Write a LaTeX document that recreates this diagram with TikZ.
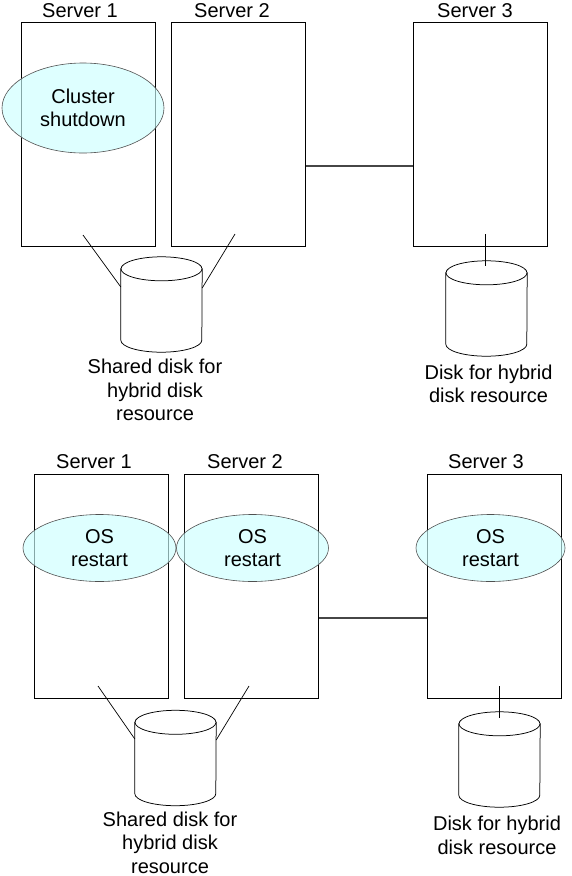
\documentclass[tikz,border=0pt]{standalone}
\usepackage{fontspec}
\setmainfont{Liberation Sans}
\usetikzlibrary{shapes.geometric}
\definecolor{ovalfill}{RGB}{204,255,255}
\definecolor{ovalline}{RGB}{80,80,80}
\definecolor{linkgray}{RGB}{70,70,70}
\tikzset{
  srv/.style={draw=black, line width=1pt, rectangle, inner sep=0pt, minimum width=134pt, minimum height=224pt},
  oval/.style={ellipse, draw=ovalline, line width=0.6pt, fill=ovalfill, fill opacity=0.65, text opacity=1, inner sep=0pt, align=center, font=\fontsize{20}{23}\selectfont},
  lbl/.style={inner sep=0pt, anchor=base, font=\fontsize{20}{24}\selectfont},
  captext/.style={inner sep=0pt, anchor=north, align=center, font=\fontsize{20}{23.5}\selectfont},
  cylbody/.style={rectangle, inner sep=0pt, minimum width=81pt, minimum height=71pt},
  cylline/.style={draw=black, line width=0.75pt, fill=white},
  wire/.style={draw=black, line width=0.7pt},
  link/.style={draw=linkgray, line width=1.3pt}
}
\begin{document}
\begin{tikzpicture}[x=1pt, y=-1pt]
\useasboundingbox (0,0) rectangle (571,876);
% ---------- top half ----------
\node[lbl] (l1) at (80,17) {Server 1};
\node[lbl] (l2) at (232,17) {Server 2};
\node[lbl] (l3) at (475,17) {Server 3};
\node[srv] (s1) at (88,134) {};
\node[srv] (s2) at (238.5,134) {};
\node[srv] (s3) at (480.5,134) {};
\draw[link] (s2.east |- 0,166) -- (s3.west |- 0,166);
% disks
\node[cylbody] (d1) at (161.5,304.5) {};
\path[cylline] (d1.north west) -- (d1.south west) arc[start angle=180, end angle=360, x radius=40.5pt, y radius=12pt] -- (d1.north east) -- cycle;
\draw[cylline] (d1.north) ellipse[x radius=40.5pt, y radius=12pt];
\node[cylbody] (d3) at (486.5,308.5) {};
\path[cylline] (d3.north west) -- (d3.south west) arc[start angle=180, end angle=360, x radius=40.5pt, y radius=12pt] -- (d3.north east) -- cycle;
\draw[cylline] (d3.north) ellipse[x radius=40.5pt, y radius=12pt];
\coordinate (a1) at (83,235);
\coordinate (a2) at (235,234);
\coordinate (a3) at (485,234);
\draw[wire] (a1) -- (d1.west |- 0,287);
\draw[wire] (a2) -- (d1.east |- 0,288);
\draw[wire] (a3) -- (a3 |- 0,266);
\node[captext] (c1) at (155,359) {Shared disk for\\hybrid disk\\resource};
\node[captext] (c3) at (488.5,364.5) {Disk for hybrid\\disk resource};
\node[oval, minimum width=162pt, minimum height=90pt] (e1) at (83,108) {Cluster\\shutdown};
% ---------- bottom half ----------
\node[lbl] (m1) at (94,468) {Server 1};
\node[lbl] (m2) at (245,468) {Server 2};
\node[lbl] (m3) at (486,468) {Server 3};
\node[srv] (t1) at (101.5,586) {};
\node[srv] (t2) at (251.5,586) {};
\node[srv] (t3) at (494,586) {};
\draw[link] (t2.east |- 0,618) -- (t3.west |- 0,618);
\node[cylbody] (f1) at (175.5,758) {};
\path[cylline] (f1.north west) -- (f1.south west) arc[start angle=180, end angle=360, x radius=40.5pt, y radius=12pt] -- (f1.north east) -- cycle;
\draw[cylline] (f1.north) ellipse[x radius=40.5pt, y radius=12pt];
\node[cylbody] (f3) at (499.5,759.5) {};
\path[cylline] (f3.north west) -- (f3.south west) arc[start angle=180, end angle=360, x radius=40.5pt, y radius=12pt] -- (f3.north east) -- cycle;
\draw[cylline] (f3.north) ellipse[x radius=40.5pt, y radius=12pt];
\coordinate (b1) at (98,686);
\coordinate (b2) at (249,686);
\coordinate (b3) at (499,686);
\draw[wire] (b1) -- (f1.west |- 0,739);
\draw[wire] (b2) -- (f1.east |- 0,740);
\draw[wire] (b3) -- (b3 |- 0,718);
\node[captext] (g1) at (170,811.7) {Shared disk for\\hybrid disk\\resource};
\node[captext] (g3) at (497,816.2) {Disk for hybrid\\disk resource};
\node[oval, minimum width=153pt, minimum height=67pt] (o1) at (99.5,548) {OS\\restart};
\node[oval, minimum width=152pt, minimum height=67pt] (o2) at (252.5,548) {OS\\restart};
\node[oval, minimum width=149pt, minimum height=67pt] (o3) at (490.5,548) {OS\\restart};
\end{tikzpicture}
\end{document}
